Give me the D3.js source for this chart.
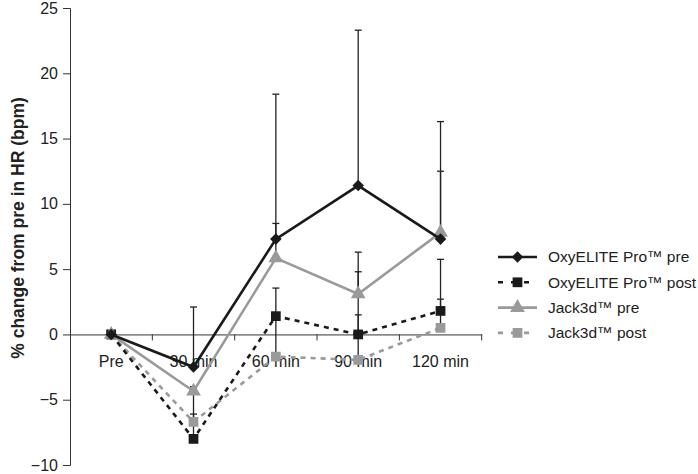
<!DOCTYPE html>
<html>
<head>
<meta charset="utf-8">
<script src="https://cdn.jsdelivr.net/npm/d3@7"></script>
<style>
  body { margin: 0; background: #fff; }
  svg { display: block; font-family: "Liberation Sans", Arial, sans-serif; }
</style>
</head>
<body>
<div id="chart"></div>
<script>
  // time points
  var categories = ['Pre', '30 min', '60 min', '90 min', '120 min'];

  // mean % change per series
  var oxyPre   = [0, -2.5, 7.3, 11.4, 7.3];
  var oxyPost  = [0, -8.0, 1.4, 0.0, 1.8];
  var jackPre  = [0, -4.35, 5.85, 3.1, 7.8];
  var jackPost = [0, -6.7, -1.7, -1.95, 0.5];

  // upper end of the error bars (one sided)
  var oxyPreUp   = [0, 2.1, 18.4, 23.3, 16.3];
  var oxyPostUp  = [0, -4.0, 3.55, 4.8, 5.75];
  var jackPreUp  = [0, -4.0, 8.5, 6.3, 12.5];
  var jackPostUp = [0, -6.1, 1.4, 1.5, 2.7];

  var yTicks = [-10, -5, 0, 5, 10, 15, 20, 25];

  var series = [
    { name: 'OxyELITE Pro\u2122 pre',  values: oxyPre,   upper: oxyPreUp,   color: '#1a1a1a', dash: null,  shape: d3.symbolDiamond2, size: 85 },
    { name: 'OxyELITE Pro\u2122 post', values: oxyPost,  upper: oxyPostUp,  color: '#1a1a1a', dash: '5,5', shape: d3.symbolSquare,   size: 95 },
    { name: 'Jack3d\u2122 pre',        values: jackPre,  upper: jackPreUp,  color: '#9a9a9a', dash: null,  shape: d3.symbolTriangle, size: 95 },
    { name: 'Jack3d\u2122 post',       values: jackPost, upper: jackPostUp, color: '#9a9a9a', dash: '5,5', shape: d3.symbolSquare,   size: 95 }
  ];

  var width = 698,
      height = 474;

  var svg = d3.select('#chart')
    .append('svg')
    .attr('width', width)
    .attr('height', height);

  var x = d3.scaleBand()
    .domain(categories)
    .range([70, 481.7]);

  var y = d3.scaleLinear()
    .domain([-10, 25])
    .range([465, 8]);

  function cx(c) { return x(c) + x.bandwidth() / 2; }

  var font = 'Liberation Sans, Arial, sans-serif';

  // y axis
  var yAxis = svg.append('g')
    .attr('transform', 'translate(70,0)')
    .call(d3.axisLeft(y).tickValues(yTicks).tickSize(7).tickPadding(5));
  yAxis.selectAll('text').attr('font-size', 16).attr('fill', '#222').attr('font-family', font);
  yAxis.selectAll('line, path').attr('stroke', '#333');

  // x axis at zero
  var xAxis = svg.append('g')
    .attr('transform', 'translate(0,' + y(0) + ')')
    .call(d3.axisBottom(x).tickSize(0).tickPadding(21).tickSizeOuter(0));
  xAxis.selectAll('text').attr('font-size', 16).attr('fill', '#222').attr('font-family', font);
  xAxis.select('.domain').attr('stroke', '#333');

  // tick marks between categories
  svg.append('g').selectAll('line')
    .data(categories)
    .enter().append('line')
    .attr('x1', function(d) { return x(d) + x.bandwidth(); })
    .attr('x2', function(d) { return x(d) + x.bandwidth(); })
    .attr('y1', y(0))
    .attr('y2', y(0) + 6)
    .attr('stroke', '#333');

  // y axis title
  svg.append('text')
    .attr('transform', 'translate(24,228) rotate(-90)')
    .attr('text-anchor', 'middle')
    .attr('font-size', 17.5)
    .attr('font-weight', 'bold')
    .attr('fill', '#222')
    .text('% change from pre in HR (bpm)');

  // error bars
  var bars = svg.append('g');
  series.forEach(function(s) {
    categories.forEach(function(c, i) {
      if (s.upper[i] === s.values[i]) return;
      var px = cx(c);
      bars.append('line')
        .attr('x1', px).attr('x2', px)
        .attr('y1', y(s.values[i])).attr('y2', y(s.upper[i]))
        .attr('stroke', '#222').attr('stroke-width', 1.3);
      bars.append('line')
        .attr('x1', px - 3.5).attr('x2', px + 3.5)
        .attr('y1', y(s.upper[i])).attr('y2', y(s.upper[i]))
        .attr('stroke', '#222').attr('stroke-width', 1.3);
    });
  });

  var line = d3.line()
    .x(function(d, i) { return cx(categories[i]); })
    .y(function(d) { return y(d); });

  // draw back to front
  var order = [3, 1, 2, 0];
  order.forEach(function(k) {
    var s = series[k];
    var g = svg.append('g');
    g.append('path')
      .datum(s.values)
      .attr('d', line)
      .attr('fill', 'none')
      .attr('stroke', s.color)
      .attr('stroke-width', 2.6)
      .attr('stroke-dasharray', s.dash);
    g.selectAll('path.marker')
      .data(s.values)
      .enter().append('path')
      .attr('class', 'marker')
      .attr('transform', function(d, i) { return 'translate(' + cx(categories[i]) + ',' + y(d) + ')'; })
      .attr('d', d3.symbol().type(s.shape).size(s.size))
      .attr('fill', s.color);
  });

  // legend
  var legend = svg.append('g');
  series.forEach(function(s, i) {
    var ly = 257 + i * 25.3;
    legend.append('line')
      .attr('x1', 498).attr('x2', 537)
      .attr('y1', ly).attr('y2', ly)
      .attr('stroke', s.color)
      .attr('stroke-width', 2.6)
      .attr('stroke-dasharray', s.dash ? '5,8' : null);
    legend.append('path')
      .attr('transform', 'translate(517.5,' + ly + ')')
      .attr('d', d3.symbol().type(s.shape).size(s.size))
      .attr('fill', s.color);
    legend.append('text')
      .attr('x', 548)
      .attr('y', ly)
      .attr('dy', '0.35em')
      .attr('font-size', 15.5)
      .attr('fill', '#222')
      .attr('font-family', font)
      .text(s.name);
  });
</script>
</body>
</html>
